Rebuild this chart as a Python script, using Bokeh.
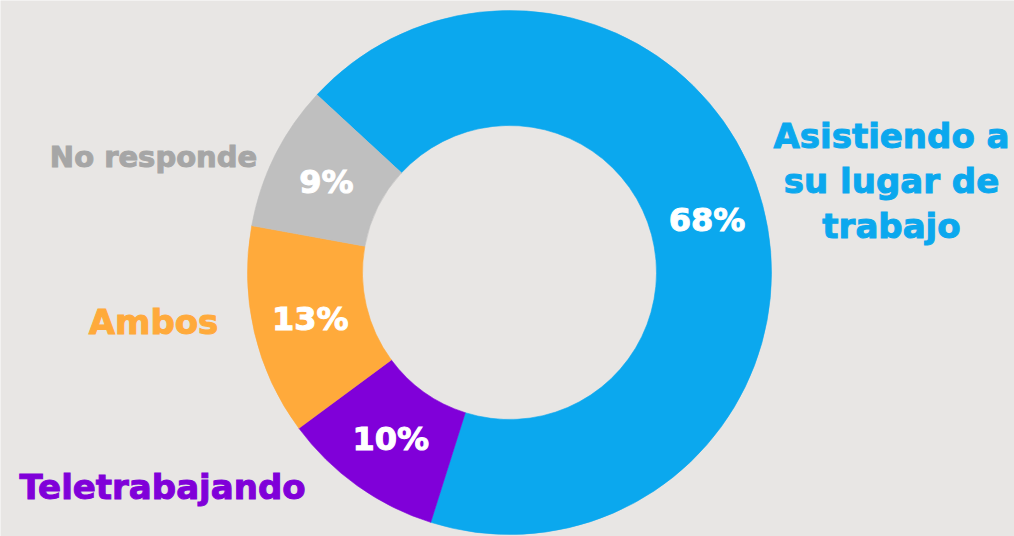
import math
from bokeh.plotting import figure
from bokeh.models import Range1d, ColumnDataSource
from bokeh.core.properties import value
from bokeh.embed import file_html
from bokeh.resources import INLINE

# ---- data ----
categories = ["Asistiendo a\nsu lugar de\ntrabajo", "Teletrabajando", "Ambos", "No responde"]
values = [68, 10, 13, 9]

# ---- styles ----
slice_colors = ["#0BA8EE", "#8000D9", "#FFAA3B", "#BFBFBF"]
label_colors = ["#0BA8EE", "#8000D9", "#FFAA3B", "#A6A6A6"]
label_sizes = [34, 34, 34, 29]
BG = "#E8E6E4"
FONT = "DejaVu Sans"

# ---- layout (screen pixels, window 1014x536) ----
W, H = 1014, 536
CX, CY = 509, 272
R_OUT, R_IN = 262, 147
START_DEG = 137.3
PCT_SIZE = 32
# anchor (x, first-baseline y, align) for category labels
label_pos = [(891, 147, "center"), (162, 498, "center"), (153, 333, "center"), (153, 167, "center")]
LINE_H = 45
BASE_FIX = 0.35  # em: correction for where the renderer puts the alphabetic baseline


def sy(y):
    return H - y


p = figure(width=W, height=H, output_backend="svg", toolbar_location=None,
           x_range=Range1d(0, W), y_range=Range1d(0, H),
           x_axis_type=None, y_axis_type=None, min_border=0)
p.background_fill_color = BG
p.border_fill_color = BG
p.outline_line_color = None
p.grid.visible = False

total = float(sum(values))
S = math.radians(START_DEG)
starts, ends, mids = [], [], []
cum = 0.0
for v in values:
    a_end = S - cum / total * 2 * math.pi
    a_start = S - (cum + v) / total * 2 * math.pi
    starts.append(a_start)
    ends.append(a_end)
    mids.append((a_start + a_end) / 2)
    cum += v

src = ColumnDataSource(dict(x=[CX] * len(values), y=[sy(CY)] * len(values),
                            start=starts, end=ends, color=slice_colors))
p.annular_wedge(x="x", y="y", inner_radius=R_IN, outer_radius=R_OUT,
                start_angle="start", end_angle="end", direction="anticlock",
                fill_color="color", line_color="color", line_width=0.6, source=src)

# percentage labels at mid radius on each slice bisector
r_mid = (R_IN + R_OUT) / 2
pct = dict(x=[CX + r_mid * math.cos(a) for a in mids],
           y=[sy(CY) + r_mid * math.sin(a) for a in mids],
           t=[f"{v}%" for v in values])
p.text(x="x", y="y", text="t", source=ColumnDataSource(pct),
       text_color="white", text_font=value(FONT), text_font_style="bold",
       text_outline_color="white",
       text_font_size=f"{PCT_SIZE}px", text_align="center", text_baseline="alphabetic",
       y_offset=0.729 * PCT_SIZE / 2 - BASE_FIX * PCT_SIZE)

# category labels
for cat, col, size, (lx, ly, al) in zip(categories, label_colors, label_sizes, label_pos):
    lines = cat.split("\n")
    p.text(x=[lx] * len(lines), y=[sy(ly + i * LINE_H) for i in range(len(lines))], text=lines,
           text_color=col, text_font=value(FONT), text_font_style="bold",
           text_outline_color=col,
           text_font_size=f"{size}px", text_align=al, text_baseline="alphabetic",
           y_offset=-BASE_FIX * size)

html = file_html(p, INLINE)
html = html.replace("<body", f'<body style="margin:0;background-color:{BG};"', 1)
open("out.html", "w").write(html)
